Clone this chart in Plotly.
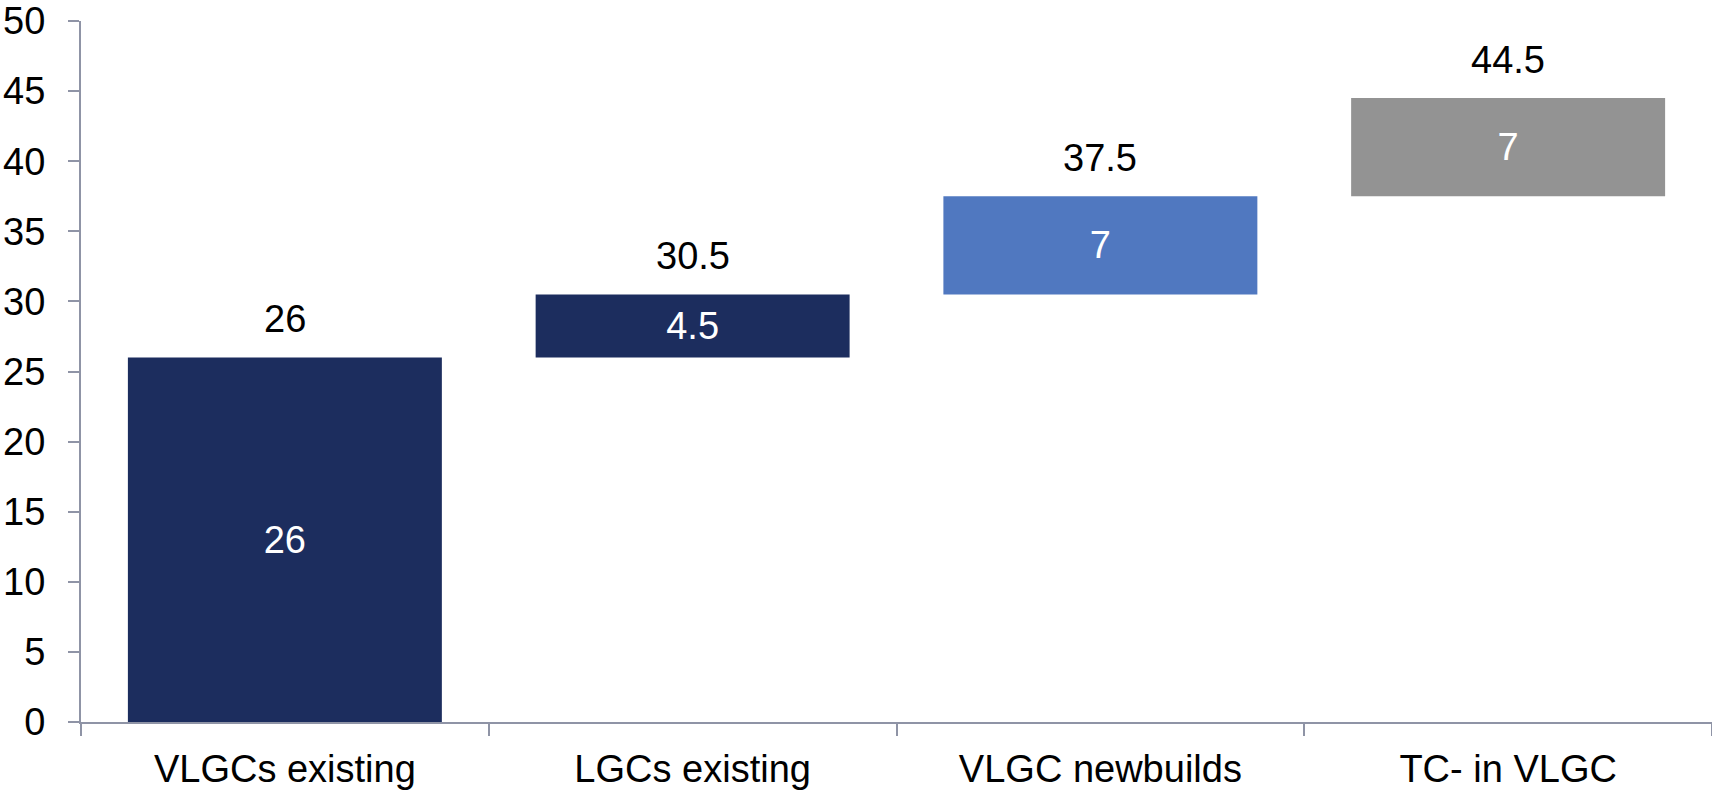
import plotly.graph_objects as go

categories = ["VLGCs existing", "LGCs existing", "VLGC newbuilds", "TC- in VLGC"]
increments = [26, 4.5, 7, 7]
bases = [0, 26, 30.5, 37.5]
totals = [26, 30.5, 37.5, 44.5]
bar_colors = ["#1C2D5E", "#1C2D5E", "#5078C0", "#939393"]

FONT = "Liberation Sans, Arial, sans-serif"
FS = 38
AXIS_COLOR = "#8F94A6"

fig = go.Figure()
fig.add_trace(go.Bar(
    x=categories,
    y=increments,
    base=bases,
    marker=dict(color=bar_colors, line=dict(width=0)),
    width=0.77,
    text=[f"{v:g}" for v in increments],
    textposition="inside",
    insidetextanchor="middle",
    textangle=0,
    textfont=dict(family=FONT, size=FS, color="white"),
    hoverinfo="skip",
    showlegend=False,
))

for cat, tot in zip(categories, totals):
    fig.add_annotation(
        x=cat, y=tot, text=f"{tot:g}",
        showarrow=False, yanchor="bottom", yshift=15,
        font=dict(family=FONT, size=FS, color="black"),
    )

fig.update_layout(
    width=1712, height=790,
    margin=dict(l=81, r=0, t=17, b=66, pad=0),
    paper_bgcolor="white", plot_bgcolor="white",
    font=dict(family=FONT, size=FS, color="black"),
    bargap=0.23,
)
fig.update_xaxes(
    showline=True, linecolor=AXIS_COLOR, linewidth=2,
    ticks="outside", tickson="boundaries", ticklen=12, tickwidth=2, tickcolor=AXIS_COLOR,
    ticklabelstandoff=12, ticklabeloverflow="allow",
    showgrid=False, zeroline=False,
    tickfont=dict(family=FONT, size=FS, color="black"),
)
fig.update_yaxes(
    range=[0, 50], dtick=5, tick0=0,
    showline=True, linecolor=AXIS_COLOR, linewidth=2,
    ticks="outside", ticklen=11, tickwidth=2, tickcolor=AXIS_COLOR,
    ticklabelstandoff=15, ticklabeloverflow="allow",
    showgrid=False, zeroline=False,
    tickfont=dict(family=FONT, size=FS, color="black"),
)

fig.write_html("out.html")
